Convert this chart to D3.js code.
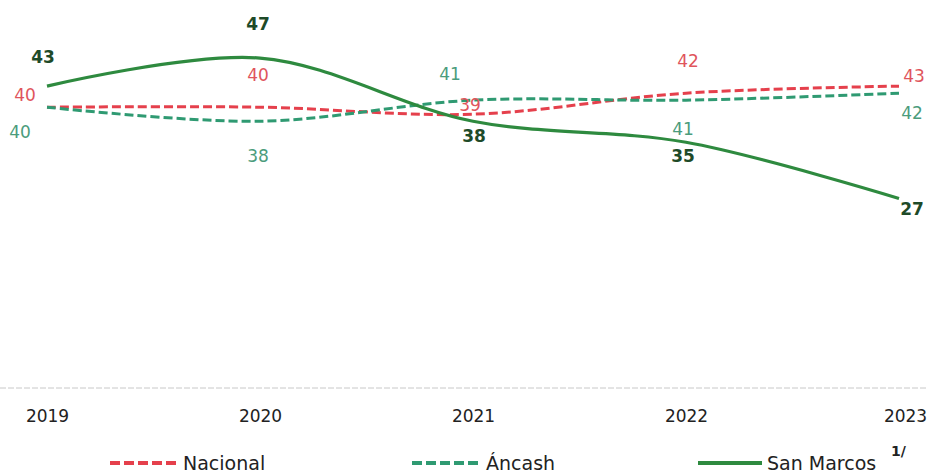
<!DOCTYPE html>
<html>
<head>
<meta charset="utf-8">
<script src="https://cdn.jsdelivr.net/npm/d3@7"></script>
<style>
  body { margin: 0; background: #fff; }
  text { font-family: "DejaVu Sans", sans-serif; }
</style>
</head>
<body>
<script>
var width = 927;
var height = 472;

var years = ["2019", "2020", "2021", "2022", "2023"];
var nacional = [40, 40, 39, 42, 43];
var ancash = [40, 38, 41, 41, 42];
var sanMarcos = [43, 47, 38, 35, 27];

// label offsets per point [dx, dy]
var nacionalLbl = [[-22, -11], [-2, -31], [-3, -8], [2, -31], [15, -9]];
var ancashLbl = [[-27, 26], [-2, 36], [-23, -25], [-3, 30], [13, 21]];
var sanMarcosLbl = [[-4, -28], [-2, -33], [1, 16], [-3, 15], [13, 12]];

var series = [
  { name: "Nacional", values: nacional, lbl: nacionalLbl, color: "#e5404c", text: "#e0555c", dash: "9,4", w: 3, bold: false },
  { name: "Áncash", values: ancash, lbl: ancashLbl, color: "#2f9a72", text: "#4b9c7c", dash: "9,4", w: 3, bold: false },
  { name: "San Marcos", values: sanMarcos, lbl: sanMarcosLbl, color: "#2e8a3f", text: "#1e4a28", dash: null, w: 3.2, bold: true }
];

var x = d3.scalePoint().domain(years).range([47, 899]);
var y = d3.scaleLinear().domain([0, 50]).range([388, 37]);

var svg = d3.select("body").append("svg")
  .attr("width", width)
  .attr("height", height);

svg.append("line")
  .attr("x1", 0).attr("x2", width)
  .attr("y1", y(0)).attr("y2", y(0))
  .style("stroke", "#c8c8c8")
  .style("stroke-width", 1)
  .style("stroke-dasharray", "6,2");

var xAxis = svg.append("g")
  .attr("transform", "translate(0," + (y(0) + 19) + ")")
  .call(d3.axisBottom(x).tickSize(0));
xAxis.select(".domain").remove();
xAxis.selectAll("text")
  .attr("dx", function (d, i) { return i === years.length - 1 ? 6 : 0; })
  .style("font-size", "17px")
  .style("fill", "#222");

var line = d3.line()
  .x(function (d, i) { return x(years[i]); })
  .y(function (d) { return y(d); })
  .curve(d3.curveCatmullRom.alpha(0.5));

series.forEach(function (s) {
  svg.append("path")
    .datum(s.values)
    .attr("d", line)
    .style("fill", "none")
    .style("stroke", s.color)
    .style("stroke-width", s.w)
    .style("stroke-dasharray", s.dash);
});

series.forEach(function (s) {
  svg.selectAll(null)
    .data(s.values)
    .enter().append("text")
    .attr("x", function (d, i) { return x(years[i]) + s.lbl[i][0]; })
    .attr("y", function (d, i) { return y(d) + s.lbl[i][1]; })
    .attr("text-anchor", "middle")
    .attr("dominant-baseline", "middle")
    .style("font-size", "17px")
    .style("font-weight", s.bold ? "bold" : "normal")
    .style("fill", s.text)
    .text(function (d) { return d; });
});

// legend
var legendY = 463;
var legendPos = [[110, 178], [412, 481], [698, 762]];
series.forEach(function (s, i) {
  var p = legendPos[i];
  svg.append("line")
    .attr("x1", p[0]).attr("x2", p[1])
    .attr("y1", legendY).attr("y2", legendY)
    .style("stroke", s.color)
    .style("stroke-width", 4)
    .style("stroke-dasharray", s.dash ? "10,4" : null);
  svg.append("text")
    .attr("x", p[1] + 5)
    .attr("y", legendY + 1)
    .attr("dominant-baseline", "middle")
    .style("font-size", "19px")
    .style("fill", "#222")
    .text(s.name);
});
svg.append("text")
  .attr("x", 891)
  .attr("y", 456)
  .style("font-size", "14px")
  .style("font-weight", "bold")
  .style("fill", "#222")
  .text("1/");
</script>
</body>
</html>
